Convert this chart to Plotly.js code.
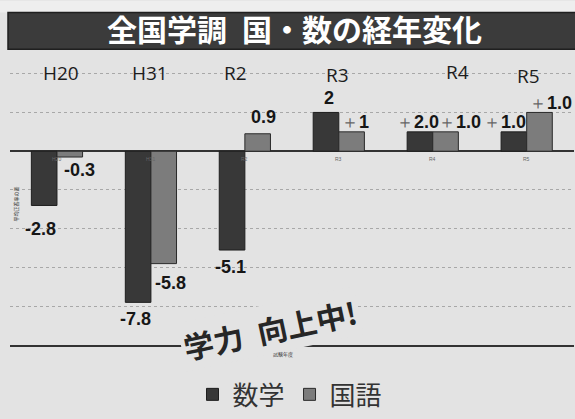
<!DOCTYPE html>
<html>
<head>
<meta charset="utf-8">
<script src="https://cdn.plot.ly/plotly-3.0.1.min.js"></script>
<style>
  html, body { margin: 0; padding: 0; background: #e3e3e3; }
  #chart { width: 575px; height: 419px; }
</style>
</head>
<body>
<div id="chart"></div>
<script>
// ---- data ----
const categories = ["H20", "H31", "R2", "R3", "R4", "R5"];
const mathValues = [-2.8, -7.8, -5.1, 2, 1, 1];
const kokugoValues = [-0.3, -5.8, 0.9, 1, 1, 2];
const mathLabels = ["-2.8", "-7.8", "-5.1", "2", "+2.0", "+1.0"];
const kokugoLabels = ["-0.3", "-5.8", "0.9", "+1", "+1.0", "+1.0"];
const seriesNames = ["数学", "国語"];
const titleText = "全国学調\u2002国・数の経年変化";
const yAxisTitle = "平均正答率の差";
const xAxisTitle = "試験年度";
const sloganText = "学力\u2002向上中!";

// ---- style (pixel offsets, not data) ----
const W = 575, H = 419;
const M = { l: 10, r: 1, t: 64, b: 71 };
const plotW = W - M.l - M.r, plotH = H - M.t - M.b;
const px2x = p => (p - M.l) / plotW;
const py2y = p => (H - M.b - p) / plotH;
const barGap = 0.455;
const barHalf = (plotW / categories.length) * (1 - barGap) / 4;
const mathShift = [[-4, -24], [-3, -17], [-2, -17], [3, 14], [-2, 10], [-9, 10]];
const kokugoShift = [[10, -13], [7, -19], [6, 17], [3, 10], [14, 10], [11, 9]];
const topLabelShift = [4.5, -1, -9, -1, 25, 2];
const topLabelY = [73, 73, 73, 75, 72, 76];

const MATH_COLOR = "#383838";
const KOKUGO_COLOR = "#7c7c7c";
const BG = "#e3e3e3";

function fmtLabel(s) {
  if (s.startsWith("+")) {
    return "<span style='font-weight:normal;fill:#666666'>＋</span>" + s.slice(1);
  }
  return s;
}

const traces = [
  {
    type: "bar", name: seriesNames[0], x: categories, y: mathValues,
    marker: { color: MATH_COLOR, line: { color: "#1e1e1e", width: 1 } },
    hoverinfo: "skip"
  },
  {
    type: "bar", name: seriesNames[1], x: categories, y: kokugoValues,
    marker: { color: KOKUGO_COLOR, line: { color: "#2a2a2a", width: 1 } },
    hoverinfo: "skip"
  }
];

const annotations = [];
const labelFont = { family: "Liberation Sans, Arial, sans-serif", size: 18, color: "#161616", weight: "bold" };
categories.forEach((c, i) => {
  annotations.push({
    xref: "x", yref: "y", x: c, y: mathValues[i], text: fmtLabel(mathLabels[i]),
    showarrow: false, xshift: -barHalf + mathShift[i][0], yshift: mathShift[i][1],
    font: labelFont, xanchor: "center", yanchor: "middle"
  });
  annotations.push({
    xref: "x", yref: "y", x: c, y: kokugoValues[i], text: fmtLabel(kokugoLabels[i]),
    showarrow: false, xshift: barHalf + kokugoShift[i][0], yshift: kokugoShift[i][1],
    font: labelFont, xanchor: "center", yanchor: "middle"
  });
  annotations.push({
    xref: "x", yref: "paper", x: c, y: py2y(topLabelY[i]), text: c,
    showarrow: false, xshift: topLabelShift[i],
    font: { family: "Open Sans, sans-serif", size: 19, color: "#1c1c1c" },
    xanchor: "center", yanchor: "middle"
  });
  annotations.push({
    xref: "x", yref: "y", x: c, y: 0, text: c, showarrow: false, yshift: -8,
    xanchor: "center", yanchor: "middle",
    font: { family: "Liberation Sans, sans-serif", size: 5, color: "#666" }
  });
});

annotations.push({
  xref: "paper", yref: "paper", x: px2x(15), y: py2y(206), text: yAxisTitle,
  textangle: -90, showarrow: false, xanchor: "center", yanchor: "middle",
  font: { family: "Noto Sans CJK JP, sans-serif", size: 5, color: "#333" }
});
annotations.push({
  xref: "paper", yref: "paper", x: px2x(283), y: py2y(357), text: xAxisTitle,
  showarrow: false, xanchor: "center", yanchor: "middle",
  font: { family: "Noto Sans CJK JP, sans-serif", size: 5, color: "#333" }
});
annotations.push({
  xref: "paper", yref: "paper", x: px2x(270), y: py2y(332), text: sloganText,
  textangle: -12, showarrow: false, bgcolor: BG, borderpad: 2,
  xanchor: "center", yanchor: "middle",
  font: { family: "Noto Sans CJK JP, sans-serif", size: 30, color: "#262626", weight: "bold" }
});

const layout = {
  width: W, height: H,
  margin: M,
  paper_bgcolor: BG,
  plot_bgcolor: "rgba(0,0,0,0)",
  title: {
    text: titleText,
    x: 294.5 / W, xanchor: "center",
    y: 1 - 30 / H, yanchor: "middle", yref: "container",
    font: { family: "Noto Sans CJK JP, sans-serif", size: 30, color: "#ffffff", weight: "bold" }
  },
  barmode: "group",
  bargap: barGap,
  bargroupgap: 0,
  showlegend: true,
  legend: {
    orientation: "h", x: px2x(290), xanchor: "center", y: py2y(398), yanchor: "middle",
    font: { family: "Noto Sans CJK JP, sans-serif", size: 26, color: "#333" },
    bgcolor: "rgba(0,0,0,0)"
  },
  xaxis: {
    type: "category", showticklabels: false, showgrid: false, zeroline: false,
    showline: true, linecolor: "#333", linewidth: 1.5, ticks: ""
  },
  yaxis: {
    range: [-10, 4.5], dtick: 2, tick0: 0, showticklabels: false, ticks: "",
    showgrid: true, gridcolor: "#a8a8a8", gridwidth: 1, griddash: "dot",
    zeroline: true, zerolinecolor: "#333", zerolinewidth: 1.5
  },
  shapes: [
    { type: "rect", xref: "paper", yref: "paper", layer: "below",
      x0: px2x(0), x1: px2x(W), y0: py2y(12), y1: py2y(0),
      fillcolor: "#eeeeee", line: { width: 0 } },
    { type: "rect", xref: "paper", yref: "paper", layer: "below",
      x0: px2x(8), x1: px2x(W + 2), y0: py2y(49), y1: py2y(12),
      fillcolor: "#3b3b3b", line: { color: "#1f1f1f", width: 1.5 } }
  ],
  annotations: annotations
};

Plotly.newPlot("chart", traces, layout, { displayModeBar: false, staticPlot: true });
</script>
</body>
</html>
